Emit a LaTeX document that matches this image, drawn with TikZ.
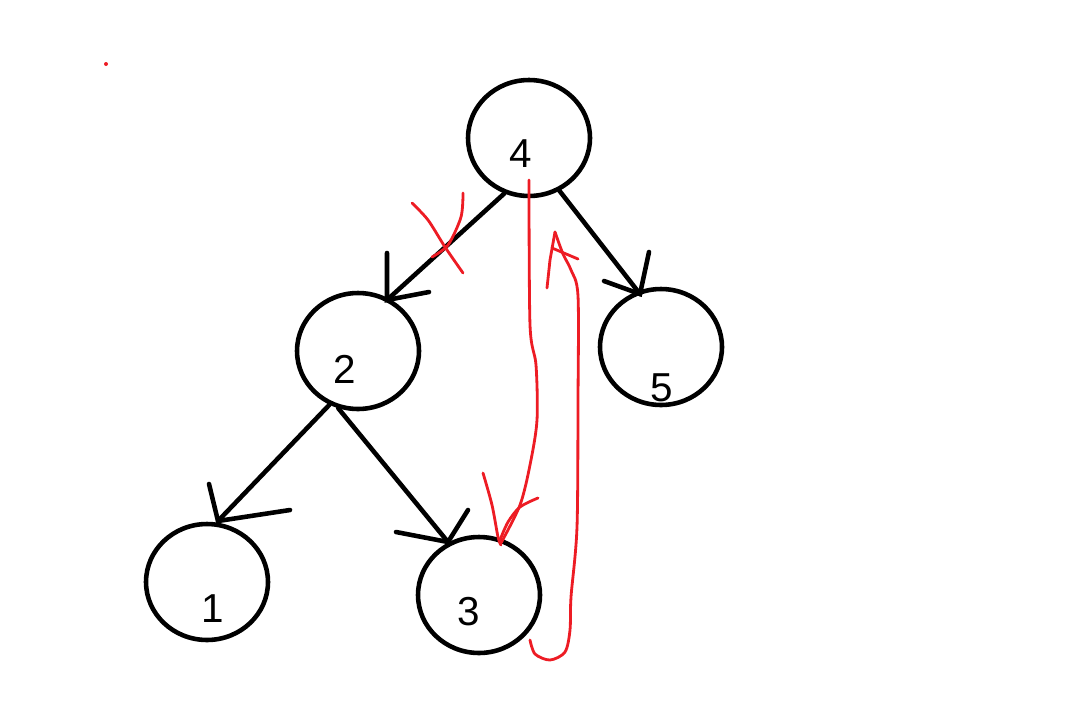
\documentclass[tikz,border=0pt]{standalone}
\usepackage{fontspec}
\setmainfont{Liberation Sans}
\usetikzlibrary{shapes.geometric}
\definecolor{paintred}{RGB}{237,28,36}
\tikzset{
  vert/.style={draw, ellipse, line width=2.6pt, minimum width=2.44cm, minimum height=2.32cm, inner sep=0pt},
  num/.style={font=\fontsize{23}{26}\selectfont, inner sep=0pt},
  edge/.style={line width=2.6pt, line cap=round},
  redpen/.style={draw=paintred, line width=1.6pt, line cap=round, line join=round}
}
\begin{document}
\begin{tikzpicture}[x=0.02cm,y=-0.02cm]
  \useasboundingbox (0,0) rectangle (1078,727);
  % vertices
  \node[vert] (n4) at (529,138) {};
  \node[vert] (n2) at (358,351) {};
  \node[vert] (n5) at (661,347) {};
  \node[vert] (n1) at (207,582) {};
  \node[vert] (n3) at (479,595) {};
  \node[num] (l4) at (521,154) {4};
  \node[num] (l2) at (345,369) {2};
  \node[num] (l5) at (662,388) {5};
  \node[num] (l1) at (213,609) {1};
  \node[num] (l3) at (469,612) {3};
  % arrow tips
  \coordinate (t42) at (387,300);
  \coordinate (t45) at (640,294);
  \coordinate (t21) at (218,521);
  \coordinate (t23) at (448,542);
  \draw[edge] (n4.246) -- (t42);
  \draw[edge] (n4.300) -- (t45);
  \draw[edge] (n2.242) -- (t21);
  \draw[edge] (n2.251) -- (t23);
  \draw[edge] (387,253) -- (t42) -- (429,292);
  \draw[edge] (649,252) -- (t45) -- (604,281);
  \draw[edge] (209,484) -- (t21) -- (290,510);
  \draw[edge] (468,510) -- (t23) -- (396,532);
  % red strokes
  \fill[paintred] (106,64) circle (2);
  \draw[redpen] plot[smooth] coordinates {(412,203) (428,220) (445,247) (463,273)};
  \draw[redpen] plot[smooth] coordinates {(463,193) (461,217) (448,245) (432,257)};
  \draw[redpen] plot[smooth] coordinates {(529,180) (530,325) (536,365) (537,420) (530,465) (520,505) (501,543)};
  \draw[redpen] plot[smooth] coordinates {(483,473) (492,505) (498,537) (501,545)};
  \draw[redpen] plot[smooth] coordinates {(538,498) (520,507) (508,522) (500,540)};
  \draw[redpen] plot[smooth] coordinates {(530,640) (535,654) (550,660) (565,652) (570,630) (571,597) (577,527) (578,400) (578,296) (571,270) (563,254) (555,232)};
  \draw[redpen] (555,232) -- (550,260) -- (547,288);
  \draw[redpen] (552,248) -- (578,259);
\end{tikzpicture}
\end{document}
